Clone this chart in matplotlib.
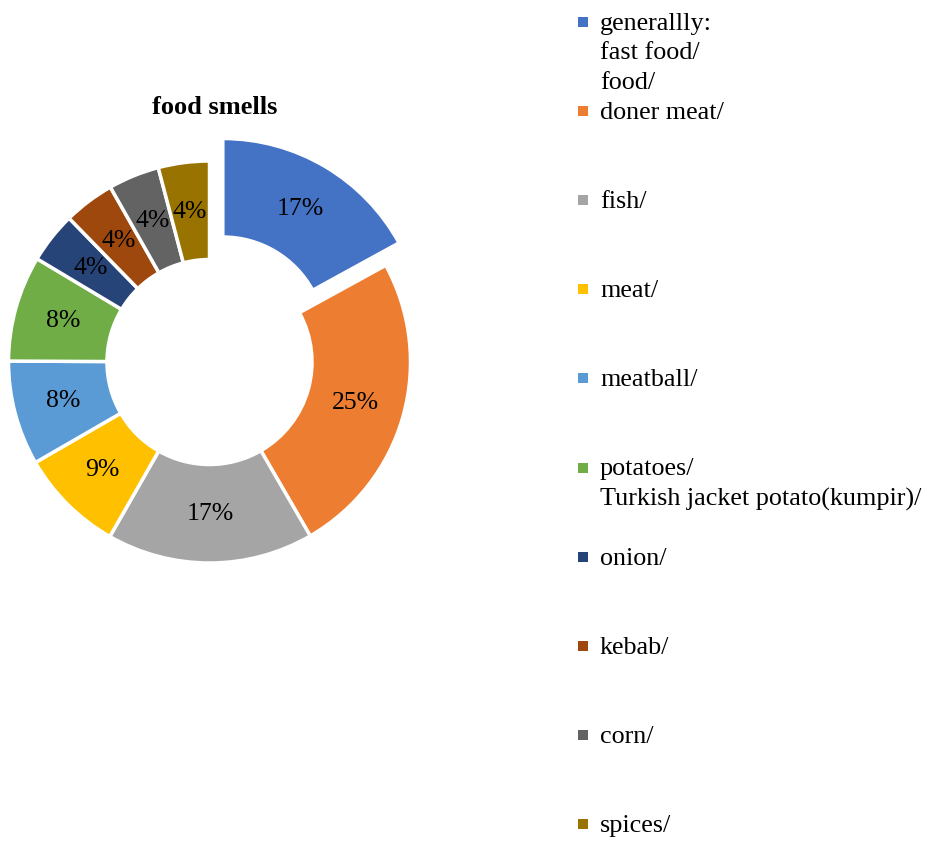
import numpy as np
import matplotlib
matplotlib.use("Agg")
import matplotlib.pyplot as plt
from matplotlib.patches import Rectangle

plt.rcParams['font.family'] = ['Liberation Serif', 'DejaVu Serif']

categories = ["generallly:\nfast food/\nfood/", "doner meat/", "fish/", "meat/", "meatball/",
              "potatoes/\nTurkish jacket potato(kumpir)/", "onion/", "kebab/", "corn/", "spices/"]
shares = [17, 24.6, 16.6, 8.4, 8.4, 8.5, 4.1, 4.1, 4.1, 4.1]
pct_labels = ["17%", "25%", "17%", "9%", "8%", "8%", "4%", "4%", "4%", "4%"]
colors = ["#4472C4", "#ED7D31", "#A5A5A5", "#FFC000", "#5B9BD5",
          "#70AD47", "#264478", "#9E480E", "#636363", "#997300"]
explode = [0.13, 0, 0, 0, 0, 0, 0, 0, 0, 0]

W, H = 933, 842
fig = plt.figure(figsize=(W / 100, H / 100), dpi=100)

# pie axes: centre at (209.5, 362) px, outer radius 201 px
cx, cy, r = 209.5, 362, 201
ax = fig.add_axes([(cx - r) / W, (H - cy - r) / H, 2 * r / W, 2 * r / H])
wedges, _ = ax.pie(shares, colors=colors, startangle=90, counterclock=False,
                   explode=explode, radius=1,
                   wedgeprops=dict(width=0.49, edgecolor='white', linewidth=2.5))
ax.set_xlim(-1, 1)
ax.set_ylim(-1, 1)
ax.set_aspect('equal')
ax.axis('off')

for w, lab in zip(wedges, pct_labels):
    w.set_clip_on(False)
    ang = np.deg2rad((w.theta1 + w.theta2) / 2)
    x0, y0 = w.center
    ax.text(x0 + 0.755 * np.cos(ang), y0 + 0.755 * np.sin(ang), lab,
            ha='center', va='center', fontsize=18.5, color='#000000', clip_on=False)

fig.text(215 / W, 1 - 108 / H, "food smells", ha='center', va='center',
         fontsize=19, fontweight='bold')

# legend, one entry every ~89 px, marker lined up with the first text line
y_first, y_step = 22, 89.1
for i, (lab, c) in enumerate(zip(categories, colors)):
    yp = y_first + i * y_step
    fig.add_artist(Rectangle(((583 - 5) / W, 1 - (yp + 5) / H), 10 / W, 10 / H,
                             facecolor=c, edgecolor='none', transform=fig.transFigure))
    fig.text(600 / W, 1 - (yp - 9) / H, lab, ha='left', va='top',
             fontsize=18.8, linespacing=1.44)

fig.savefig("out.png", dpi=100)
